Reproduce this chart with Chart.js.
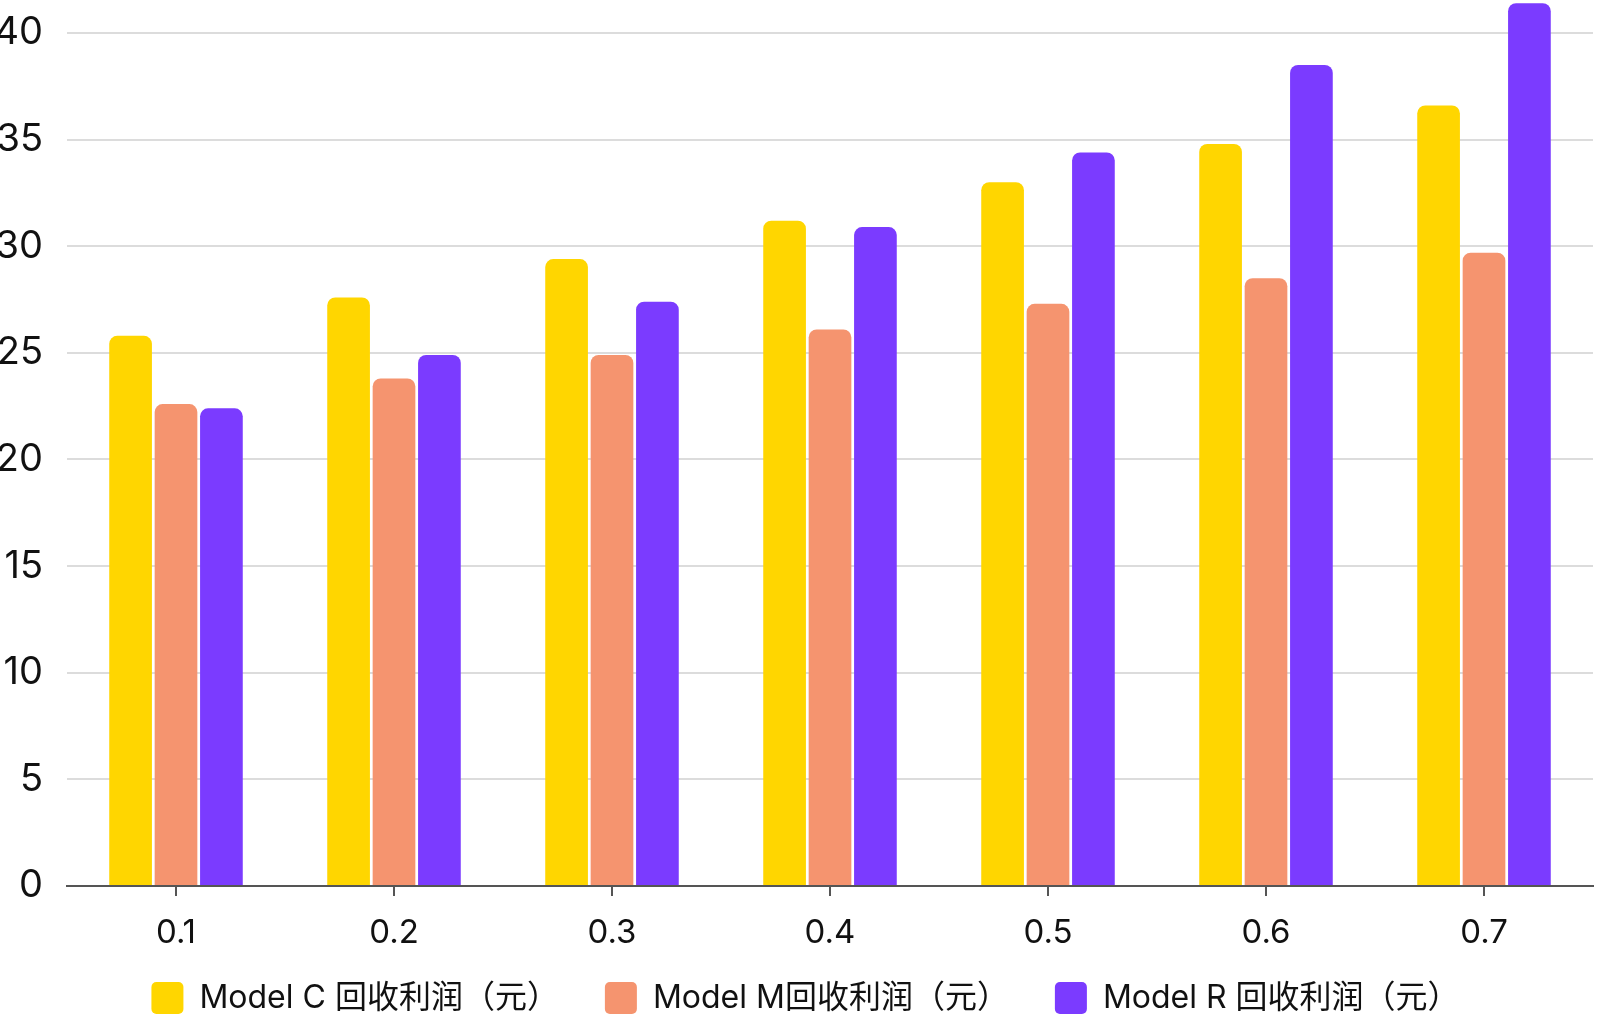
<!DOCTYPE html>
<html>
<head>
<meta charset="utf-8">
<script src="https://cdn.jsdelivr.net/npm/chart.js@4.4.1/dist/chart.umd.min.js"></script>
<style>
  html, body { margin: 0; padding: 0; background: #fff; }
  #wrap { width: 1600px; height: 1015px; position: relative; }
</style>
</head>
<body>
<div id="wrap"><canvas id="ProfitChart"></canvas></div>
<script>
const categories = ['0.1', '0.2', '0.3', '0.4', '0.5', '0.6', '0.7'];
const modelC = [25.8, 27.6, 29.4, 31.2, 33.0, 34.8, 36.6];
const modelM = [22.6, 23.8, 24.9, 26.1, 27.3, 28.5, 29.7];
const modelR = [22.4, 24.9, 27.4, 30.9, 34.4, 38.5, 41.4];
const seriesNames = ['Model C 回收利润（元）', 'Model M回收利润（元）', 'Model R 回收利润（元）'];
const yTicks = [0, 5, 10, 15, 20, 25, 30, 35, 40];

const fontFamily = "Inter, 'Noto Sans CJK SC', sans-serif";

const barStyle = {
  borderRadius: 8,
  borderSkipped: 'start',
  categoryPercentage: 0.625,
  barPercentage: 0.94,
};

// nudge the legend row a little to the right, like the original
const legendShift = {
  id: 'legendShift',
  afterLayout(chart) {
    if (chart.legend) {
      chart.legend.left += 9;
      chart.legend.right += 9;
    }
  },
};

new Chart(document.getElementById('ProfitChart').getContext('2d'), {
  type: 'bar',
  data: {
    labels: categories,
    datasets: [
      { label: seriesNames[0], data: modelC, backgroundColor: '#FFD600', ...barStyle },
      { label: seriesNames[1], data: modelM, backgroundColor: '#F5946F', ...barStyle },
      { label: seriesNames[2], data: modelR, backgroundColor: '#7B3BFF', ...barStyle },
    ],
  },
  plugins: [legendShift],
  options: {
    responsive: true,
    maintainAspectRatio: false,
    animation: false,
    layout: { padding: { top: 1, right: 7, left: 0, bottom: 0 } },
    plugins: {
      tooltip: { enabled: false },
      legend: {
        position: 'bottom',
        maxHeight: 79,
        labels: {
          boxWidth: 32,
          boxHeight: 32,
          useBorderRadius: true,
          borderRadius: 5,
          padding: 46,
          color: '#111',
          font: { family: fontFamily, size: 32 },
        },
      },
    },
    scales: {
      x: {
        afterFit: (scale) => {
          // keep the legend close to the axis; labels may spill below the box
          scale.height = 50;
          scale.paddingLeft = 0;
          scale.paddingRight = 0;
          scale._computeLabelArea = () => undefined;
        },
        grid: {
          display: true,
          offset: false,
          drawOnChartArea: false,
          drawTicks: true,
          tickLength: 10,
          color: '#555',
          lineWidth: 2,
        },
        border: { display: true, color: '#555', width: 2 },
        ticks: {
          color: '#111',
          padding: 17,
          font: { family: fontFamily, size: 33 },
        },
      },
      y: {
        min: 0,
        max: 41.5,
        afterBuildTicks: (scale) => {
          scale.ticks = yTicks.map((v) => ({ value: v }));
        },
        afterFit: (scale) => {
          scale.width = 67;
          scale.paddingTop = 0;
          scale.paddingBottom = 0;
        },
        grid: { color: '#dcdcdc', lineWidth: 2, drawTicks: false },
        border: { display: false },
        ticks: {
          color: '#111',
          padding: 24,
          font: { family: fontFamily, size: 38 },
        },
      },
    },
  },
});
</script>
</body>
</html>
